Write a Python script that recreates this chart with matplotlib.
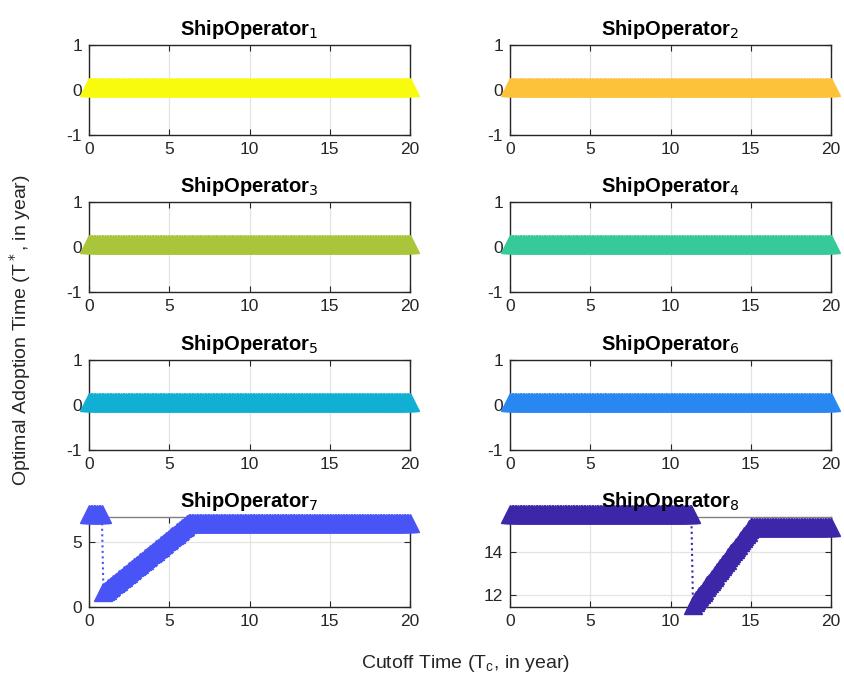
import matplotlib
matplotlib.use("Agg")
import matplotlib.pyplot as plt
from matplotlib.transforms import ScaledTranslation

plt.rcParams['font.family'] = ['Liberation Sans', 'DejaVu Sans']
plt.rcParams['axes.unicode_minus'] = False

# cutoff time grid (years)
cutoff = [round(0.1 * i, 1) for i in range(201)]

# optimal adoption time per ship operator
op1 = [0.0] * 201
op2 = [0.0] * 201
op3 = [0.0] * 201
op4 = [0.0] * 201
op5 = [0.0] * 201
op6 = [0.0] * 201
op7 = [6.9] * 9 + cutoff[9:63] + [6.2] * 138
op8 = [15.6] * 114 + cutoff[114:151] + [15.0] * 50

series = [op1, op2, op3, op4, op5, op6, op7, op8]
colors = ['#F9FB0F', '#FEC23A', '#A9C53A', '#36C999',
          '#12AFD4', '#2887F0', '#4854F6', '#3E26A8']
ylims = [(-1, 1)] * 6 + [(0, 6.9), (11.43, 15.62)]
yticks = [[-1, 0, 1]] * 6 + [[0, 5], [12, 14]]

W, H = 844, 684
fig = plt.figure(figsize=(W / 100, H / 100), dpi=100)

lefts = [89, 510]
width = 321
tops = [45, 202, 360, 517]
height = 90

for i, y in enumerate(series):
    r, c = divmod(i, 2)
    ax = fig.add_axes([lefts[c] / W, 1 - (tops[r] + height) / H,
                       width / W, height / H])
    line, = ax.plot(cutoff, y, linestyle=':', marker='^', color=colors[i],
                    markersize=12.5, linewidth=1.5, clip_on=False, zorder=3)
    # matlab-ish triangle sits a bit above its data point
    line.set_transform(ax.transData + ScaledTranslation(0, 3 / 100, fig.dpi_scale_trans))
    ax.set_xlim(0, 20)
    ax.set_ylim(*ylims[i])
    ax.set_xticks([0, 5, 10, 15, 20])
    ax.set_yticks(yticks[i])
    ax.grid(True, color='#E3E3E3', linewidth=0.9)
    ax.set_axisbelow(True)
    ax.tick_params(direction='in', top=True, right=True, length=4,
                   labelsize=12.5, colors='#262626')
    ax.tick_params(axis='x', pad=5)
    ax.tick_params(axis='y', pad=5)
    for s in ax.spines.values():
        s.set_color('#262626')
        s.set_linewidth(1.0)
    if i >= 6:
        ax.spines['top'].set_color('#808080')
    ax.set_title('ShipOperator$_{%d}$' % (i + 1), fontsize=14.5, fontweight='bold',
                 pad=7)

fig.text(465 / W, 1 - 664 / H, 'Cutoff Time (T$_\\mathregular{c}$, in year)',
         ha='center', va='center', fontsize=14, color='#262626')
fig.text(20 / W, 1 - 330 / H, 'Optimal Adoption Time (T$^*$, in year)',
         ha='center', va='center', rotation=90, fontsize=14, color='#262626')

fig.savefig('out.png', dpi=100)
